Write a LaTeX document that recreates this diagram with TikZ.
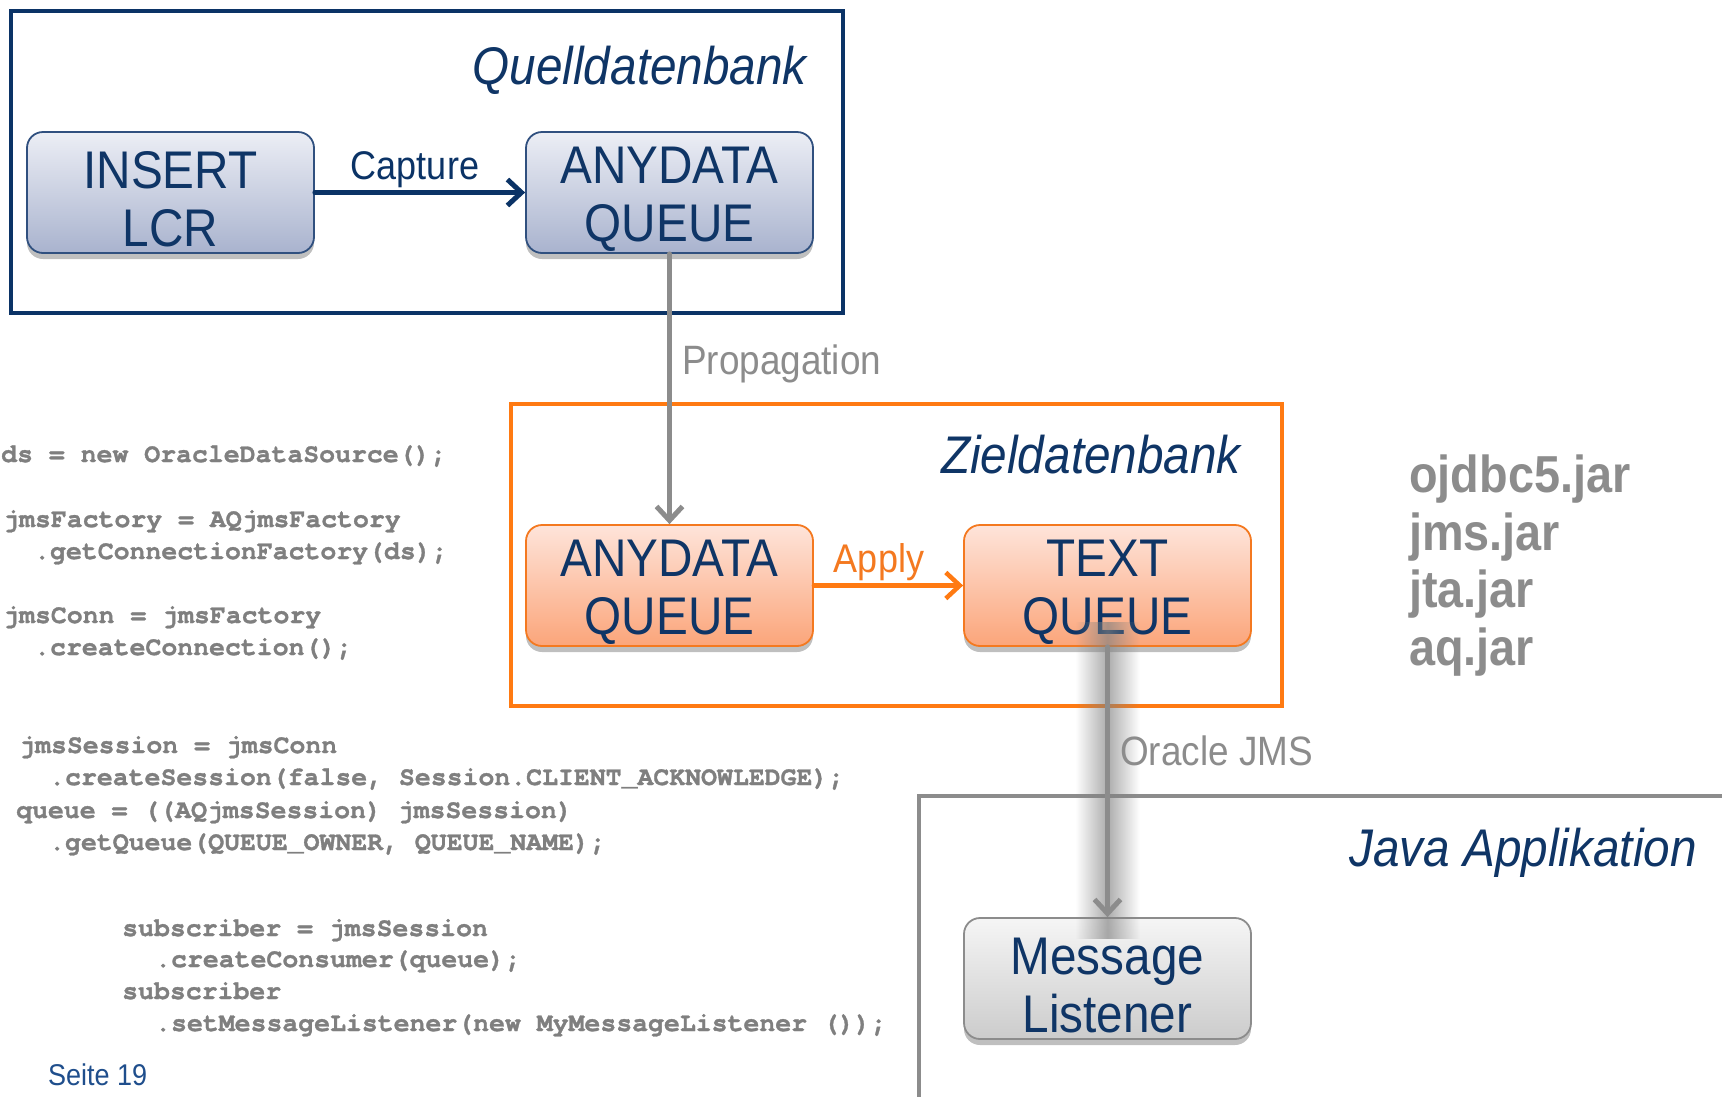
\documentclass[tikz,border=0pt]{standalone}
\usepackage{fontspec}
\setmainfont{Liberation Sans}[FakeStretch=0.9]
\setmonofont{Liberation Mono}
\newfontfamily\codefont{TeX Gyre Cursor}[BoldFeatures={FakeBold=1.2}]
\usetikzlibrary{arrows.meta,shadows,fadings}
\definecolor{qblue}{HTML}{0B3366}
\definecolor{navytext}{HTML}{0F3566}
\definecolor{boxblueT}{HTML}{ECEEF5}
\definecolor{boxblueB}{HTML}{A9B3CE}
\definecolor{boxblueD}{HTML}{30507F}
\definecolor{zorange}{HTML}{FF7A12}
\definecolor{boxorT}{HTML}{FEE4DA}
\definecolor{boxorB}{HTML}{FBA57A}
\definecolor{boxorD}{HTML}{F47920}
\definecolor{lgray}{HTML}{8C8C8C}
\definecolor{codegray}{HTML}{7F7F7F}
\definecolor{msgT}{HTML}{F5F5F5}
\definecolor{msgB}{HTML}{CCCCCC}
\definecolor{seiteblue}{HTML}{1F4E8C}
\newcommand\tallstrut{\rule{0pt}{50pt}}
\tikzfading[name=hazefade, left color=transparent!100, right color=transparent!100, middle color=transparent!35]
\begin{document}
\begin{tikzpicture}[x=1pt,y=-1pt,
  boxbase/.style={rounded corners=16pt, line width=1.8pt, minimum width=287pt, minimum height=121pt,
    inner sep=0pt, align=center, text=navytext, font=\fontsize{53}{58}\selectfont,
    drop shadow={shadow xshift=0pt, shadow yshift=-6pt, opacity=0.25, fill=black}},
  bluebox/.style={boxbase, draw=boxblueD, top color=boxblueT, bottom color=boxblueB},
  orangebox/.style={boxbase, draw=boxorD, top color=boxorT, bottom color=boxorB},
  graybox/.style={boxbase, draw=lgray, top color=msgT, bottom color=msgB},
  titletext/.style={font=\itshape\fontsize{53}{58}\selectfont, text=navytext, anchor=base east, inner sep=0pt},
  codeline/.style={font=\codefont\bfseries\fontsize{26.5}{32}\selectfont, text=codegray, anchor=base west, inner sep=0pt},
  jarline/.style={font=\bfseries\fontsize{52}{58}\selectfont, text=lgray, anchor=base west, inner sep=0pt},
  labeltext/.style={font=\fontsize{41}{46}\selectfont, inner sep=0pt},
  tip/.style={-{Straight Barb[length=14pt,width=26pt]}, line join=round, line cap=round}
]
\useasboundingbox (0,0) rectangle (1722,1096);
\clip (0,0) rectangle (1722,1096);
\fill[white] (0,0) rectangle (1722,1096);

% frames
\draw[qblue, line width=4.5pt] (11,11) rectangle (843,313);
\draw[zorange, line width=4.5pt] (511,404) rectangle (1282,706);
\draw[lgray, line width=4pt] (919,1120) -- (919,796) -- (1740,796);

% titles
\node[titletext] (tq) at (807,84) {Quelldatenbank};
\node[titletext] (tz) at (1241,473) {Zieldatenbank};
\node[titletext] (tj) at (1697,866) {Java Applikation};

% boxes
\node[bluebox] (ins) at (170.5,192.5) {\tallstrut INSERT\\LCR};
\node[bluebox] (aq1) at (669.5,192.5) {\tallstrut ANYDATA\\QUEUE};
\node[orangebox] (aq2) at (669.5,585.5) {\tallstrut ANYDATA\\QUEUE};
\node[orangebox] (txt) at (1107.5,585.5) {\tallstrut TEXT\\QUEUE};
\node[graybox] (ml) at (1107.5,978.5) {\tallstrut Message\\Listener};

% connectors
\draw[tip, qblue, line width=5pt] (ins.east) -- (aq1.west);
\node[labeltext, font=\fontsize{40}{46}\selectfont, text=qblue, anchor=base] (capl) at (415,179) {Capture};

\draw[tip, lgray, line width=5pt] (aq1.south) -- (aq2.north);
\node[labeltext, text=lgray, anchor=base west] (propl) at (682,374) {Propagation};

\draw[tip, zorange, line width=4.5pt] (aq2.east) -- (txt.west);
\node[labeltext, font=\fontsize{40}{46}\selectfont, text=boxorD, anchor=base] (applyl) at (879,572) {Apply};

\fill[black!50, path fading=hazefade] ([xshift=-32pt,yshift=25pt]txt.south) rectangle ([xshift=32pt,yshift=-22pt]ml.north);
\draw[tip, lgray, line width=5pt] (txt.south) -- (ml.north);
\node[labeltext, text=lgray, anchor=base west] (jmsl) at (1120,765) {Oracle JMS};

% jars
\node[jarline] (jar1) at (1409,492) {ojdbc5.jar};
\node[jarline] (jar2) at (1409,550) {jms.jar};
\node[jarline] (jar3) at (1409,607) {jta.jar};
\node[jarline] (jar4) at (1409,665) {aq.jar};

% code
\node[codeline] (code1) at (1,462) {ds = new OracleDataSource();};
\node[codeline] (code2) at (3,527) {jmsFactory = AQjmsFactory};
\node[codeline] (code3) at (34,559) {.getConnectionFactory(ds);};
\node[codeline] (code4) at (3,623) {jmsConn = jmsFactory};
\node[codeline] (code5) at (34,655) {.createConnection();};
\node[codeline] (code6) at (19,753) {jmsSession = jmsConn};
\node[codeline] (code7) at (49,785) {.createSession(false, Session.CLIENT\_ACKNOWLEDGE);};
\node[codeline] (code8) at (16,818) {queue = ((AQjmsSession) jmsSession)};
\node[codeline] (code9) at (49,850) {.getQueue(QUEUE\_OWNER, QUEUE\_NAME);};
\node[codeline] (code10) at (122,936) {subscriber = jmsSession};
\node[codeline] (code11) at (155,967) {.createConsumer(queue);};
\node[codeline] (code12) at (122,999) {subscriber};
\node[codeline] (code13) at (155,1031) {.setMessageListener(new MyMessageListener ());};

\node[font=\fontsize{30}{34}\selectfont, text=seiteblue, anchor=base west, inner sep=0pt] (seite) at (48,1085) {Seite 19};
\end{tikzpicture}
\end{document}
